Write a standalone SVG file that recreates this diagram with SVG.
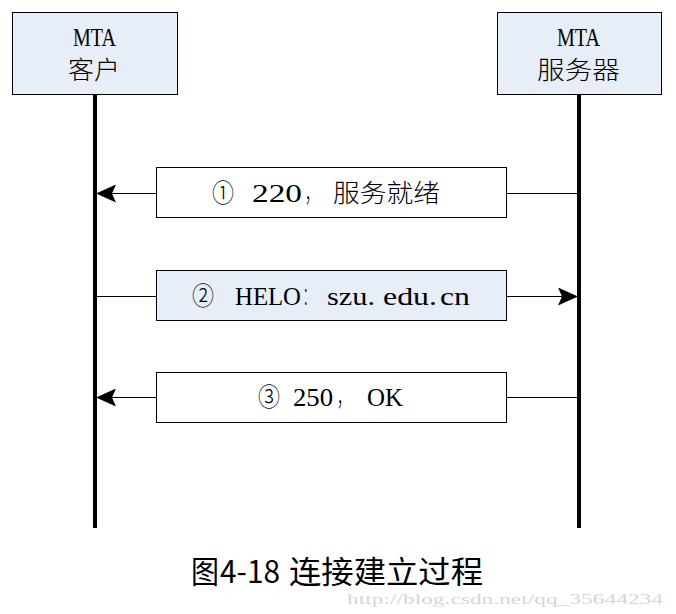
<svg xmlns="http://www.w3.org/2000/svg" width="676" height="614" viewBox="0 0 676 614">
<defs>
<style>
.actor{fill:#e8eef8;stroke:#000;stroke-width:1}
.msg{stroke:#000;stroke-width:1}
.lbl{font-family:"Liberation Serif","Noto Sans CJK SC",serif;font-size:25px;fill:#000}
.cjk{font-family:"Noto Sans CJK SC","Liberation Serif",sans-serif;font-weight:300}
.life{stroke:#000;stroke-width:4}
.conn{stroke:#000;stroke-width:1;fill:none}
</style>
<marker id="ah" viewBox="0 0 20 18" refX="19" refY="9" markerWidth="20" markerHeight="18" markerUnits="userSpaceOnUse" orient="auto">
<path d="M0,0 L20,9 L0,18 L4,9 Z" fill="#000"/>
</marker>
</defs>
<rect width="676" height="614" fill="#fff"/>
<g id="client">
<rect class="actor" x="12.5" y="12.5" width="165" height="82"/>
<text class="lbl" x="73" y="46" textLength="43" lengthAdjust="spacingAndGlyphs">MTA</text>
<text class="lbl cjk" x="68" y="79" textLength="52" lengthAdjust="spacingAndGlyphs">客户</text>
</g>
<g id="server">
<rect class="actor" x="497.5" y="12.5" width="164" height="82"/>
<text class="lbl" x="557" y="46" textLength="43" lengthAdjust="spacingAndGlyphs">MTA</text>
<text class="lbl cjk" x="537" y="79" textLength="83" lengthAdjust="spacingAndGlyphs">服务器</text>
</g>
<g id="lifelines">
<line class="life" x1="95" y1="94" x2="95" y2="528"/>
<line class="life" x1="579" y1="94" x2="579" y2="528"/>
</g>
<g id="connectors">
<line class="conn" x1="577" y1="193.5" x2="506" y2="193.5"/>
<line class="conn" x1="156" y1="193.5" x2="97" y2="193.5" marker-end="url(#ah)"/>
<line class="conn" x1="97" y1="296.5" x2="156" y2="296.5"/>
<line class="conn" x1="506" y1="296.5" x2="577" y2="296.5" marker-end="url(#ah)"/>
<line class="conn" x1="577" y1="397.5" x2="506" y2="397.5"/>
<line class="conn" x1="156" y1="397.5" x2="97" y2="397.5" marker-end="url(#ah)"/>
</g>
<g id="msg1">
<rect x="156.5" y="167.5" width="350" height="50" fill="#fff" class="msg"/>
<text class="lbl" y="202"><tspan class="cjk" x="212" textLength="22" lengthAdjust="spacingAndGlyphs">①</tspan><tspan x="252" textLength="50" lengthAdjust="spacingAndGlyphs">220</tspan><tspan class="cjk" x="305" textLength="14" lengthAdjust="spacingAndGlyphs">，</tspan><tspan class="cjk" x="333" textLength="107" lengthAdjust="spacingAndGlyphs">服务就绪</tspan></text>
</g>
<g id="msg2">
<rect x="156.5" y="270.5" width="350" height="50" fill="#e8eef8" class="msg"/>
<text class="lbl" y="305"><tspan class="cjk" x="192" textLength="22" lengthAdjust="spacingAndGlyphs">②</tspan><tspan x="235" textLength="66" lengthAdjust="spacingAndGlyphs">HELO</tspan><tspan class="cjk" x="303" textLength="11" lengthAdjust="spacingAndGlyphs">：</tspan><tspan x="327" textLength="48" lengthAdjust="spacingAndGlyphs">szu.</tspan><tspan x="383" textLength="54" lengthAdjust="spacingAndGlyphs">edu.</tspan><tspan x="440" textLength="30" lengthAdjust="spacingAndGlyphs">cn</tspan></text>
</g>
<g id="msg3">
<rect x="156.5" y="372.5" width="350" height="50" fill="#fff" class="msg"/>
<text class="lbl" y="406"><tspan class="cjk" x="258" textLength="22" lengthAdjust="spacingAndGlyphs">③</tspan><tspan x="293" textLength="40" lengthAdjust="spacingAndGlyphs">250</tspan><tspan class="cjk" x="337" textLength="14" lengthAdjust="spacingAndGlyphs">，</tspan><tspan x="367" textLength="36" lengthAdjust="spacingAndGlyphs">OK</tspan></text>
</g>
<text y="583" font-family="'Noto Sans CJK SC',sans-serif" font-size="31" fill="#000"><tspan x="191" textLength="28" lengthAdjust="spacingAndGlyphs">图</tspan><tspan x="220" textLength="60" lengthAdjust="spacingAndGlyphs">4-18</tspan><tspan x="289" textLength="194" lengthAdjust="spacingAndGlyphs">连接建立过程</tspan></text>
<text x="347" y="604" textLength="316" lengthAdjust="spacingAndGlyphs" font-family="'Liberation Serif',serif" font-size="15" fill="#d6d6d6">http://blog.csdn.net/qq_35644234</text>
</svg>
